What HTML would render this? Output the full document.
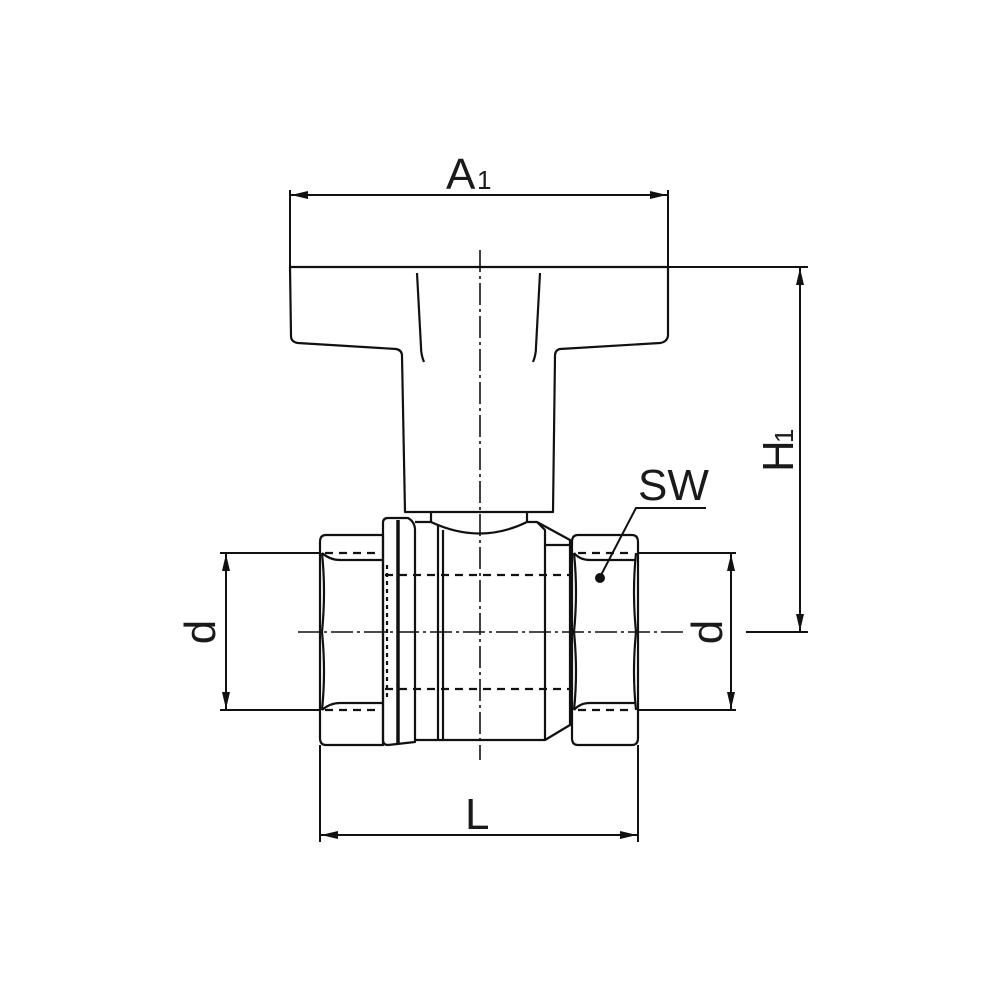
<!DOCTYPE html>
<html><head><meta charset="utf-8"><style>
html,body{margin:0;padding:0;background:#fff}
svg{display:block}
text{font-family:"Liberation Sans",sans-serif;fill:#1a1a1a}
</style></head><body>
<svg width="1000" height="1000" viewBox="0 0 1000 1000" xmlns="http://www.w3.org/2000/svg">
<defs>
<marker id="ar" viewBox="0 0 17 8" refX="17" refY="4" markerWidth="17" markerHeight="8" markerUnits="userSpaceOnUse" orient="auto-start-reverse">
<path d="M0,0 L17,4 L0,8 Z" fill="#111"/></marker>
</defs>
<g fill="none" stroke="#111" stroke-width="2.2" stroke-linejoin="round">
<path d="M290,267 L668,267 L668,336 Q667,342 660,343 L560,349 Q555,350 555,356 L553,512 L405,512 L402,356 Q402,350 396,349 L298,343 Q291,342 291,336 Z"/>
<path d="M417,273 L421,347 Q421,355 424,362"/>
<path d="M540,273 L536,347 Q536,355 533,362"/>
<path d="M431,512 L431,522 M527,512 L527,522"/>
<path d="M326,535 L383,535 L383,745 L326,745 Q320,745 320,738 L320,542 Q320,535 326,535 Z"/>
<path d="M322,553 Q330,560 340,560 L383,560 M322,710 Q330,703 340,703 L383,703"/>
<path d="M322,553 Q326,592 322,632 Q326,672 322,710"/>
<path d="M388,518 L408,518 Q415,522 415,530 L415,742 L388,745 Q383,745 383,740 L383,523 Q383,518 388,518 Z"/>
<line x1="398" y1="520" x2="398" y2="744" stroke-width="3.5"/>
<path d="M415,522 L431,522 Q480,545 527,522 L537,522 L545,530 L545,740 L443,740 L415,740"/>
<line x1="443" y1="530" x2="443" y2="740"/>
<line x1="438" y1="525" x2="438" y2="740"/>
<path d="M537,522 L570,540 L570,725 L545,740"/>
<line x1="545" y1="545" x2="570" y2="545"/>
<path d="M578,535 L632,535 Q638,535 638,542 L638,738 Q638,745 632,745 L578,745 Q572,745 572,738 L572,542 Q572,535 578,535 Z"/>
<path d="M574,553 Q580,560 590,560 L636,560 M574,710 Q580,703 590,703 L636,703"/>
<path d="M574,553 Q578,592 574,632 Q578,672 574,710"/>
<path d="M636,553 Q632,592 636,632 Q632,672 636,710"/>
</g>
<g stroke="#111" stroke-width="2.2" stroke-dasharray="8,6">
<line x1="385" y1="575" x2="572" y2="575"/>
<line x1="385" y1="689" x2="572" y2="689"/>
<line x1="325" y1="553" x2="380" y2="553"/>
<line x1="325" y1="710" x2="380" y2="710"/>
<line x1="578" y1="553" x2="634" y2="553"/>
<line x1="578" y1="710" x2="634" y2="710"/>
<line x1="387" y1="565" x2="387" y2="700" stroke-dasharray="4,4"/>
</g>
<g stroke="#111" stroke-width="1.6" stroke-dasharray="22,4,3,4">
<line x1="480" y1="250" x2="480" y2="760"/>
<line x1="298" y1="632" x2="685" y2="632"/>
</g>
<g stroke="#111" stroke-width="2" fill="none">
<line x1="290" y1="190" x2="290" y2="267"/>
<line x1="668" y1="190" x2="668" y2="267"/>
<line x1="291" y1="195" x2="667" y2="195" marker-start="url(#ar)" marker-end="url(#ar)"/>
<line x1="668" y1="267" x2="808" y2="267"/>
<line x1="746" y1="632" x2="808" y2="632"/>
<line x1="800" y1="268" x2="800" y2="631" marker-start="url(#ar)" marker-end="url(#ar)"/>
<line x1="220" y1="553" x2="320" y2="553"/>
<line x1="220" y1="710" x2="320" y2="710"/>
<line x1="226" y1="554" x2="226" y2="709" marker-start="url(#ar)" marker-end="url(#ar)"/>
<line x1="638" y1="553" x2="736" y2="553"/>
<line x1="638" y1="710" x2="736" y2="710"/>
<line x1="731" y1="554" x2="731" y2="709" marker-start="url(#ar)" marker-end="url(#ar)"/>
<line x1="320" y1="745" x2="320" y2="842"/>
<line x1="638" y1="745" x2="638" y2="842"/>
<line x1="321" y1="835" x2="637" y2="835" marker-start="url(#ar)" marker-end="url(#ar)"/>
<polyline points="706,508 636,508 600,577"/>
</g>
<circle cx="600" cy="578" r="5" fill="#111"/>
<text x="446" y="189" font-size="44">A</text>
<text x="477" y="189" font-size="26">1</text>
<text x="465" y="829" font-size="44">L</text>
<text x="638" y="500" font-size="44">SW</text>
<text transform="translate(215,632) rotate(-90)" text-anchor="middle" font-size="44">d</text>
<text transform="translate(722,632) rotate(-90)" text-anchor="middle" font-size="44">d</text>
<text transform="translate(793,472) rotate(-90)" font-size="44">H</text>
<text transform="translate(793,443) rotate(-90)" font-size="26">1</text>
</svg>
</body></html>
